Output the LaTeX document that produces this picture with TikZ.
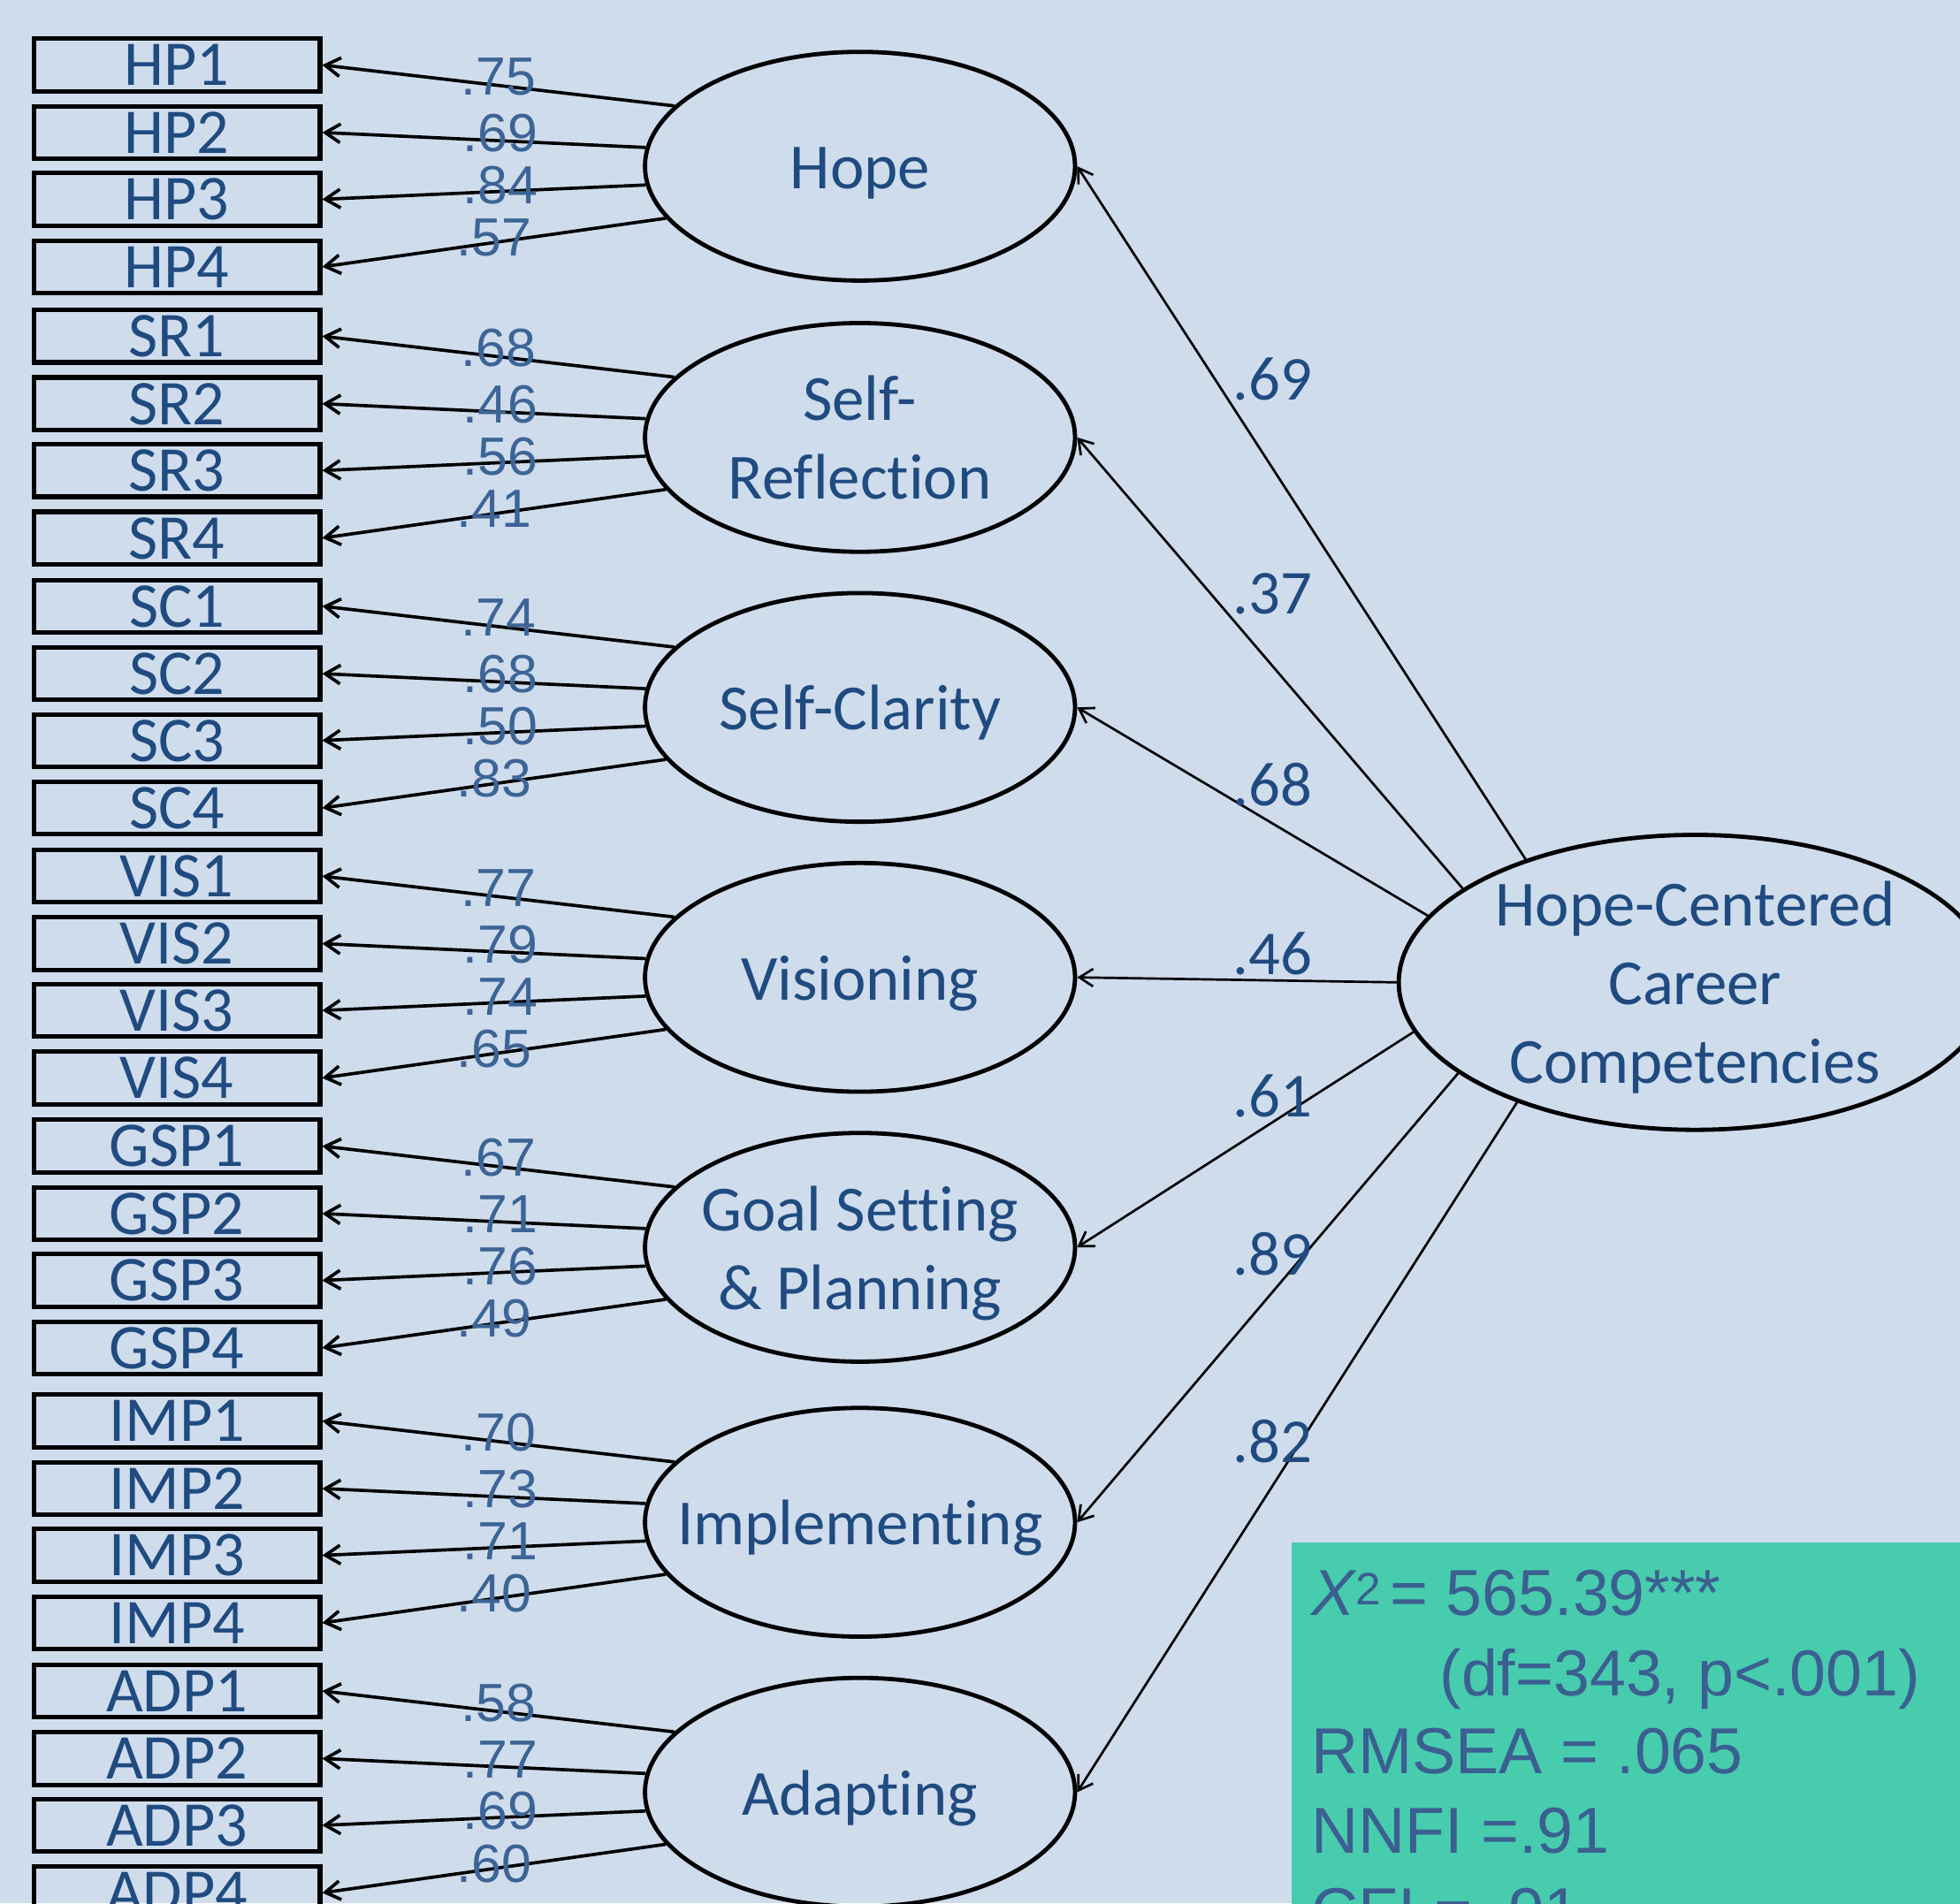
\documentclass[tikz,border=0pt]{standalone}
\usepackage{fontspec}
\usetikzlibrary{arrows.meta,shapes.geometric}
\newfontfamily\calibrilike[Ligatures={NoCommon,NoContextual}]{Carlito}
\newfontfamily\arialike{Liberation Sans}
\definecolor{bgblue}{RGB}{207,220,236}
\definecolor{fitgreen}{RGB}{72,204,174}
\definecolor{labelblue}{RGB}{31,75,128}
\definecolor{loadblue}{RGB}{60,100,150}
\definecolor{fitblue}{RGB}{59,95,145}
% uniform line strut for factor names
\newcommand\lstrut{\rule[-13.5pt]{0pt}{63pt}}

\tikzset{
  indicator/.style={draw, line width=3.6pt, rectangle, minimum width=229pt,
    minimum height=42pt, inner sep=0pt, text height=33pt, text depth=0pt,
    font=\calibrilike\fontsize{51}{60}\selectfont, text=labelblue},
  latent/.style={draw, line width=3.4pt, ellipse, minimum width=344pt,
    minimum height=183pt, inner sep=0pt, inner xsep=-80pt, inner ysep=-10pt,
    align=center, font=\calibrilike\fontsize{51.5}{63}\selectfont, text=labelblue},
  loading/.style={line width=2.6pt, -{Straight Barb[length=12pt,width=15pt]}},
  pathcoef/.style={line width=1.9pt, -{Straight Barb[length=11pt,width=14pt]}},
  loadlbl/.style={font=\arialike\fontsize{43}{50}\selectfont, text=loadblue, inner sep=0pt},
  pathlbl/.style={font=\calibrilike\fontsize{50}{60}\selectfont, text=labelblue, inner sep=0pt},
  fitline/.style={font=\arialike\fontsize{52}{62}\selectfont, text=fitblue,
    inner sep=0pt, anchor=base west},
}

\begin{document}
\begin{tikzpicture}[x=1pt,y=-1pt]
\path[use as bounding box, fill=bgblue] (0,0) rectangle (1568,1523);
\clip (0,0) rectangle (1568,1523);

% first-order factors
\node[latent] (hope) at (688,133)  {\lstrut Hope};
\node[latent] (sr)   at (688,350)  {\lstrut Self-\\\lstrut Reflection};
\node[latent] (sc)   at (688,566)  {\lstrut Self-Clarity};
\node[latent] (vis)  at (688,782)  {\lstrut Visioning};
\node[latent] (gsp)  at (688,998)  {\lstrut Goal Setting\\\lstrut\& Planning};
\node[latent] (imp)  at (688,1218) {\lstrut Implementing};
\node[latent] (adp)  at (688,1434) {\lstrut Adapting};

% second-order factor
\node[latent, minimum width=474pt, minimum height=236pt, inner xsep=-120pt,
      inner ysep=-40pt]
  (hcc) at (1356,786) {\lstrut Hope-Centered\\\lstrut Career\\\lstrut Competencies};

% observed indicators, four per factor
\foreach \n/\t/\c in {hp/HP/133, sr/SR/350, sc/SC/566, vis/VIS/782,
                      gsp/GSP/998, imp/IMP/1218, adp/ADP/1434}{
  \node[indicator] (\n1) at (141.5,\c-81)   {\t1};
  \node[indicator] (\n2) at (141.5,\c-27)   {\t2};
  \node[indicator] (\n3) at (141.5,\c+26.5) {\t3};
  \node[indicator] (\n4) at (141.5,\c+80.5) {\t4};
}

% factor loadings
\foreach \f/\n/\la/\lb/\lc/\ld in {hope/hp/.75/.69/.84/.57, sr/sr/.68/.46/.56/.41,
    sc/sc/.74/.68/.50/.83, vis/vis/.77/.79/.74/.65, gsp/gsp/.67/.71/.76/.49,
    imp/imp/.70/.73/.71/.40, adp/adp/.58/.77/.69/.60}{
  \draw[loading] (\f.162) -- node[loadlbl, pos=0.5, yshift=7pt] {\la} (\n1.east);
  \draw[loading] (\f.175) -- node[loadlbl, pos=0.45, yshift=6pt] {\lb} (\n2.east);
  \draw[loading] (\f.185) -- node[loadlbl, pos=0.45, yshift=5pt] {\lc} (\n3.east);
  \draw[loading] (\f.195) -- node[loadlbl, pos=0.5, yshift=4pt] {\ld} (\n4.east);
}

% second-order paths
\foreach \f/\ang in {hope/144, sr/158, sc/166, vis/180, gsp/190, imp/201, adp/214}
  \draw[pathcoef] (hcc.\ang) -- (\f.east);

\node[pathlbl] (c1) at (1018,303)  {.69};
\node[pathlbl] (c2) at (1018,475)  {.37};
\node[pathlbl] (c3) at (1018,628)  {.68};
\node[pathlbl] (c4) at (1018,763)  {.46};
\node[pathlbl] (c5) at (1018,877)  {.61};
\node[pathlbl] (c6) at (1018,1003) {.89};
\node[pathlbl] (c7) at (1018,1153) {.82};

% model fit
\node[fill=fitgreen, anchor=north west, minimum width=600pt, minimum height=350pt,
      inner sep=0pt] (fitbox) at (1033,1234) {};
\node[fitline] (fit1) at (1049,1292.7)
  {\textit{X}\kern-1pt\textsuperscript{2}\hspace{7pt}= 565.39***};
\node[fitline] (fit2) at (1151.6,1356.7) {(df=343, p<.001)};
\node[fitline] (fit3) at (1049,1419.2) {RMSEA = .065};
\node[fitline] (fit4) at (1049,1483) {NNFI =.91};
\node[fitline] (fit5) at (1049,1547) {CFI = .91};
\end{tikzpicture}
\end{document}
